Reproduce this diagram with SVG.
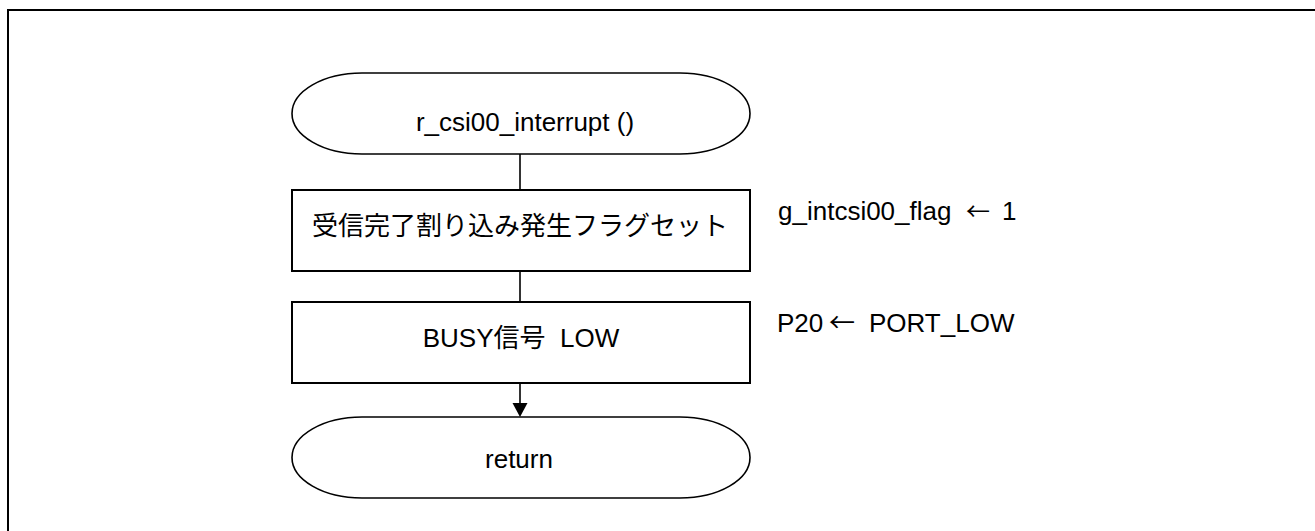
<svg xmlns="http://www.w3.org/2000/svg" width="1315" height="531" viewBox="0 0 1315 531">
<style>
.shape{fill:#fff;stroke:#000;stroke-width:1.6}
.box{fill:#fff;stroke:#000;stroke-width:2}
.t{font-family:"Liberation Sans","Noto Sans CJK JP",sans-serif;font-size:26px;fill:#000}
.c{text-anchor:middle}
.ar{font-family:"Noto Sans CJK JP","Liberation Sans",sans-serif}
.conn{stroke:#000;stroke-width:1.6;fill:none}
</style>
<rect x="0" y="0" width="1315" height="531" fill="#fff"/>
<path d="M8,531 V10 H1315" fill="none" stroke="#000" stroke-width="2"/>
<g id="connectors">
<line class="conn" x1="520" y1="154" x2="520" y2="190"/>
<line class="conn" x1="520" y1="271" x2="520" y2="302"/>
<path class="conn" d="M520,383 V404"/>
<path d="M512.5,403 L527.5,403 L520,417 Z" fill="#000"/>
</g>
<g id="start">
<rect class="shape" x="292" y="73" width="458" height="81" rx="70" ry="40.5"/>
<text class="t c" x="525" y="131">r_csi00_interrupt ()</text>
</g>
<g id="flagset">
<rect class="box" x="292" y="190" width="458" height="81"/>
<text class="t c" x="520" y="235">受信完了割り込み発生フラグセット</text>
</g>
<g id="busy">
<rect class="box" x="292" y="302" width="458" height="81"/>
<text class="t c" x="521" y="347" xml:space="preserve">BUSY信号  LOW</text>
</g>
<g id="return">
<rect class="shape" x="292" y="417" width="458" height="81" rx="70" ry="40.5"/>
<text class="t c" x="519" y="468">return</text>
</g>
<g id="notes">
<text class="t" y="220" font-size="26"><tspan x="778">g_intcsi00_flag</tspan><tspan class="ar" x="966" font-size="24">←</tspan><tspan x="1002">1</tspan></text>
<text class="t" y="332" font-size="23"><tspan x="777">P20</tspan><tspan class="ar" x="829">←</tspan><tspan x="869">PORT_LOW</tspan></text>
</g>
</svg>
